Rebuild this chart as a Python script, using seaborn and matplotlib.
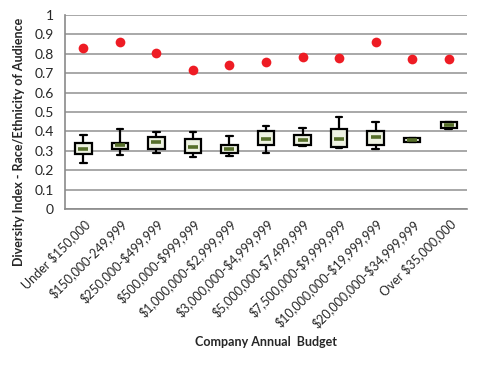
import matplotlib
matplotlib.use("Agg")
import matplotlib.pyplot as plt
import numpy as np
import pandas as pd
import seaborn as sns

budget = [
    "Under $150,000", "$150,000-249,999", "$250,000-$499,999", "$500,000-$999,999",
    "$1,000,000-$2,999,999", "$3,000,000-$4,999,999", "$5,000,000-$7,499,999",
    "$7,500,000-$9,999,999", "$10,000,000-$19,999,999", "$20,000,000-$34,999,999",
    "Over $35,000,000",
]
indice_comunita = [0.832, 0.862, 0.806, 0.716, 0.744, 0.758, 0.782, 0.780, 0.862, 0.772, 0.772]
whisker_basso = [0.235, 0.277, 0.287, 0.270, 0.273, 0.289, 0.326, 0.316, 0.309, 0.345, 0.412]
q1 = [0.282, 0.309, 0.308, 0.290, 0.287, 0.330, 0.330, 0.320, 0.331, 0.345, 0.419]
mediana = [0.309, 0.330, 0.344, 0.320, 0.309, 0.362, 0.354, 0.359, 0.371, 0.356, 0.433]
q3 = [0.342, 0.342, 0.373, 0.359, 0.330, 0.402, 0.381, 0.412, 0.400, 0.368, 0.447]
whisker_alto = [0.380, 0.414, 0.398, 0.395, 0.376, 0.428, 0.418, 0.474, 0.450, 0.368, 0.447]

sns.set_style("white")
plt.rcParams["font.family"] = ["Lato", "DejaVu Sans"]
plt.rcParams["text.parse_math"] = False

df = pd.DataFrame({"budget": budget, "indice": indice_comunita})

fig = plt.figure(figsize=(4.83, 3.65), dpi=100)
ax = fig.add_axes([0.1346, 0.4274, 0.8324, 0.5315])

pos = np.arange(len(budget))
stats = [
    {"whislo": wl, "q1": a, "med": m, "q3": b, "whishi": wh}
    for wl, a, m, b, wh in zip(whisker_basso, q1, mediana, q3, whisker_alto)
]
ax.bxp(
    stats, positions=pos, widths=0.45, patch_artist=True, showfliers=False,
    capwidths=0.18,
    boxprops=dict(facecolor="#eef2e2", edgecolor="black", linewidth=1.6),
    whiskerprops=dict(color="black", linewidth=1.6),
    capprops=dict(color="black", linewidth=1.6),
    medianprops=dict(linewidth=0),
    zorder=3,
)
ax.scatter(pos, mediana, marker="_", s=45, linewidths=2.6, color="#566f2a", zorder=4)

sns.stripplot(data=df, x="budget", y="indice", jitter=False, color="#ee1c24",
              size=7, linewidth=0, ax=ax, zorder=5)

ax.set_xlim(-0.5, len(budget) - 0.5)
ax.set_ylim(0, 1)
ax.set_yticks(np.arange(0, 1.01, 0.1))
ax.set_yticklabels(["0"] + [f"{v:.1f}" for v in np.arange(0.1, 0.95, 0.1)] + ["1"], fontsize=10)
ax.set_xticks(pos)
ax.set_xticklabels(budget, rotation=45, ha="right", rotation_mode="anchor", fontsize=9)
ax.set_xticks(np.arange(-0.5, len(budget), 1), minor=True)
ax.tick_params(axis="x", which="major", length=0, pad=6)
ax.tick_params(axis="x", which="minor", length=4, color="#888888", width=1)
ax.tick_params(axis="y", length=4, color="#888888", width=1, pad=4)

ax.grid(axis="y", color="#9a9a9a", linewidth=1.2)
ax.set_axisbelow(True)
for s in ["top", "right"]:
    ax.spines[s].set_visible(False)
for s in ["left", "bottom"]:
    ax.spines[s].set_color("#8a8a8a")
    ax.spines[s].set_linewidth(1.2)

ax.set_xlabel("Company Annual  Budget", fontsize=9, fontweight="bold")
ax.xaxis.set_label_coords(0.5, -0.655)
ax.set_ylabel("Diversity Index - Race/Ethnicity of Audience", fontsize=9, fontweight="bold")
ax.yaxis.set_label_coords(-0.1, 0.345)

fig.savefig("out.png", dpi=100)
